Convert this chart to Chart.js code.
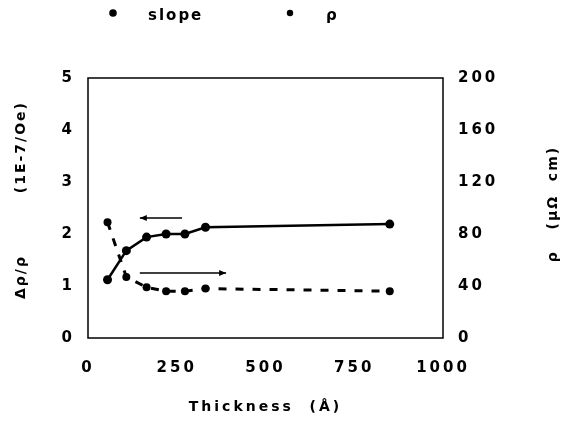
<!DOCTYPE html>
<html>
<head>
<meta charset="utf-8">
<script src="https://cdn.jsdelivr.net/npm/chart.js@4/dist/chart.umd.min.js"></script>
<style>
html,body{margin:0;padding:0;background:#fff;}
#wrap{width:567px;height:440px;}
</style>
</head>
<body>
<div id="wrap"><canvas id="c" width="567" height="440"></canvas></div>
<script>
// ---- data ----
const thickness = [55, 108, 165, 220, 273, 331, 850];       // Å
const slopeValues = [1.12, 1.68, 1.94, 2.0, 2.0, 2.13, 2.19]; // Δρ/ρ (1E-7/Oe)
const rhoValues = [89, 47, 39, 36, 36, 38, 36];              // ρ (μΩ cm)
const xTicks = [0, 250, 500, 750, 1000];
const leftTicks = [0, 1, 2, 3, 4, 5];
const rightTicks = [0, 40, 80, 120, 160, 200];
const seriesNames = ['slope', 'ρ'];
const xTitle = 'Thickness  (Å)';
const leftTitle = 'Δρ/ρ         (1E-7/Oe)';
const rightTitle = 'ρ   (μΩ  cm)';
// arrows pointing to the axis each curve belongs to (data coords, left axis)
const arrowFrom = [[265, 2.31], [146, 1.25]];
const arrowTo   = [[146, 2.31], [389, 1.25]];

const FONT = "'DejaVu Sans', sans-serif";

const spacingPlugin = {
  id: 'spacing',
  beforeDraw(chart) { chart.ctx.letterSpacing = '3px'; },
  afterDraw(chart) { chart.ctx.letterSpacing = '0px'; }
};

function vTitle(ctx, text, x, y) {
  ctx.save();
  ctx.letterSpacing = '2px';
  ctx.fillStyle = '#000';
  ctx.font = "bold 14px " + FONT;
  ctx.textAlign = 'center';
  ctx.textBaseline = 'middle';
  ctx.translate(x, y);
  ctx.rotate(-Math.PI / 2);
  ctx.fillText(text, 0, 0);
  ctx.restore();
}

const boxPlugin = {
  id: 'box',
  afterDraw(chart) {
    const {ctx, chartArea: a, scales} = chart;
    ctx.save();
    ctx.strokeStyle = '#000';
    ctx.lineWidth = 1.5;
    ctx.strokeRect(a.left, a.top, a.right - a.left, a.bottom - a.top);
    // arrows
    ctx.fillStyle = '#000';
    for (let i = 0; i < arrowFrom.length; i++) {
      const x1 = scales.x.getPixelForValue(arrowFrom[i][0]);
      const y1 = scales.y.getPixelForValue(arrowFrom[i][1]);
      const x2 = scales.x.getPixelForValue(arrowTo[i][0]);
      const y2 = scales.y.getPixelForValue(arrowTo[i][1]);
      ctx.beginPath(); ctx.moveTo(x1, y1); ctx.lineTo(x2, y2); ctx.stroke();
      const dir = Math.sign(x2 - x1);
      ctx.beginPath();
      ctx.moveTo(x2, y2);
      ctx.lineTo(x2 - dir * 7, y2 - 3);
      ctx.lineTo(x2 - dir * 7, y2 + 3);
      ctx.closePath(); ctx.fill();
    }
    ctx.restore();
    vTitle(ctx, leftTitle, 21, 200);
    vTitle(ctx, rightTitle, 553, 204);
    // legend
    ctx.save();
    ctx.letterSpacing = '2px';
    ctx.fillStyle = '#000';
    ctx.font = "bold 15px " + FONT;
    ctx.textBaseline = 'middle';
    const marks = [[113, 13, 3.8], [290, 13, 3.2]];
    const texts = [148, 326];
    chart.data.datasets.forEach((ds, i) => {
      ctx.beginPath(); ctx.arc(marks[i][0], marks[i][1], marks[i][2], 0, Math.PI * 2); ctx.fill();
      ctx.fillText(ds.label, texts[i], 16);
    });
    ctx.restore();
  }
};

const tickFont = {family: FONT, size: 15, weight: 'bold'};

new Chart(document.getElementById('c'), {
  type: 'line',
  data: {
    datasets: [
      {
        label: seriesNames[0],
        data: thickness.map((t, i) => ({x: t, y: slopeValues[i]})),
        yAxisID: 'y',
        borderColor: '#000', backgroundColor: '#000',
        borderWidth: 2.5, pointRadius: 4.5, pointBorderWidth: 0,
        fill: false, tension: 0
      },
      {
        label: seriesNames[1],
        data: thickness.map((t, i) => ({x: t, y: rhoValues[i]})),
        yAxisID: 'y1',
        borderColor: '#000', backgroundColor: '#000',
        borderWidth: 3, borderDash: [8, 9], pointRadius: 4, pointBorderWidth: 0,
        fill: false, tension: 0
      }
    ]
  },
  options: {
    responsive: false,
    animation: false,
    devicePixelRatio: 1,
    layout: {padding: {top: 78, left: 0, right: 0, bottom: 0}},
    plugins: {legend: {display: false}, tooltip: {enabled: false}},
    scales: {
      x: {
        type: 'linear', min: 0, max: 1000,
        afterBuildTicks: s => { s.ticks = xTicks.map(v => ({value: v})); },
        afterFit: s => { s.height = 102; },
        grid: {display: false, drawTicks: false},
        border: {display: false},
        ticks: {color: '#000', font: tickFont, padding: 21, maxRotation: 0, callback: v => String(v)},
        title: {display: true, text: xTitle, color: '#000', font: {family: FONT, size: 14, weight: 'bold'}, padding: {top: 0, bottom: 24}}
      },
      y: {
        type: 'linear', position: 'left', min: 0, max: 5,
        afterBuildTicks: s => { s.ticks = leftTicks.map(v => ({value: v})); },
        afterFit: s => { s.width = 88; },
        grid: {display: false, drawTicks: false},
        border: {display: false},
        ticks: {color: '#000', font: tickFont, padding: 13, callback: v => String(v)}
      },
      y1: {
        type: 'linear', position: 'right', min: 0, max: 200,
        afterBuildTicks: s => { s.ticks = rightTicks.map(v => ({value: v})); },
        afterFit: s => { s.width = 124; },
        grid: {display: false, drawTicks: false},
        border: {display: false},
        ticks: {color: '#000', font: tickFont, padding: 15, callback: v => String(v)}
      }
    }
  },
  plugins: [spacingPlugin, boxPlugin]
});
</script>
</body>
</html>
